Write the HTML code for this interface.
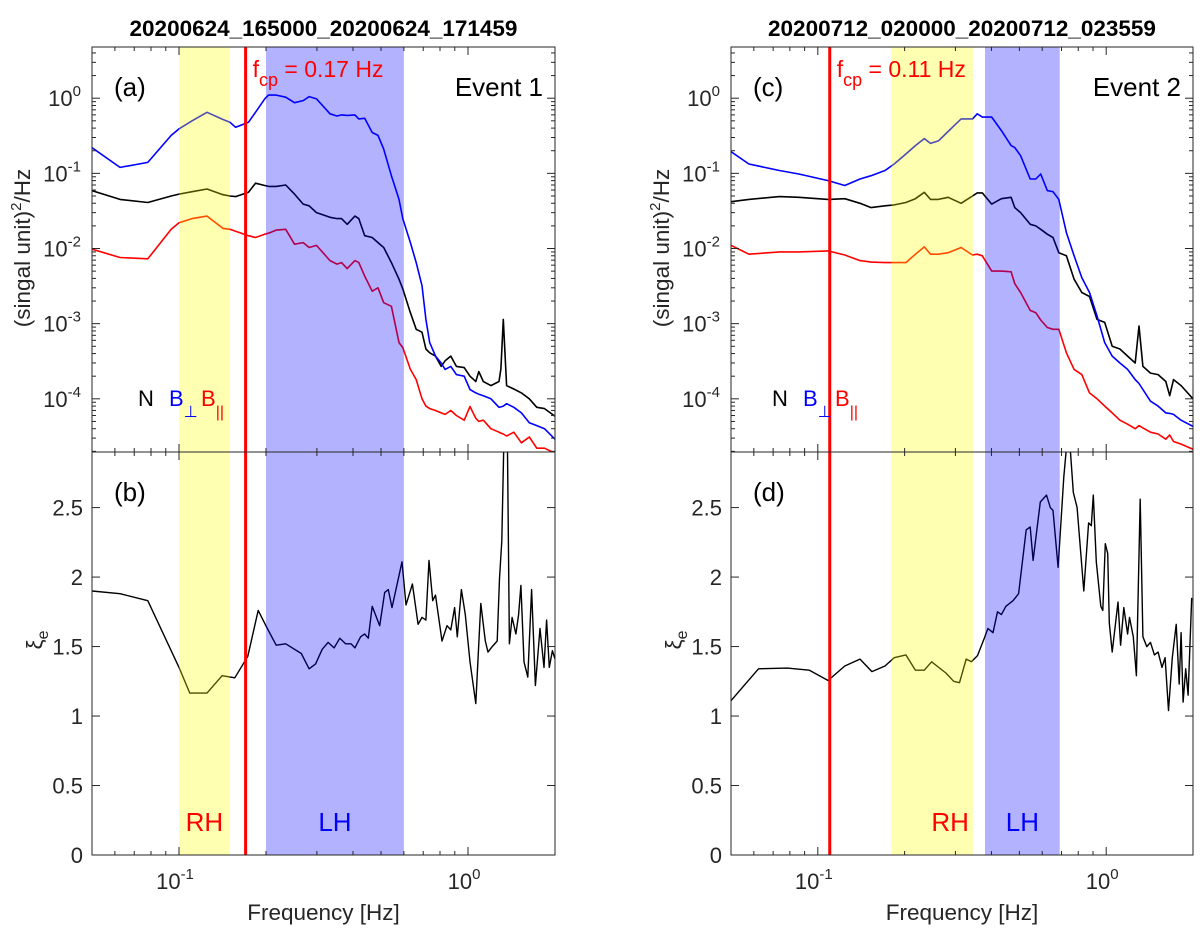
<!DOCTYPE html>
<html><head><meta charset="utf-8">
<style>
html,body{margin:0;padding:0;background:#fff;}
svg{display:block;font-family:"Liberation Sans",Arial,sans-serif;}
</style></head>
<body>
<svg id="fig" width="1200" height="934" viewBox="0 0 1200 934" xmlns="http://www.w3.org/2000/svg"></svg>
<script>
// ---------- Event 1 (left) ----------
const freqA = [0.05,0.0625,0.078,0.094,0.1,0.111,0.125,0.142,0.15,0.157,0.174,0.184,0.198,0.204,0.217,0.234,0.251,0.269,0.282,0.299,0.333,0.352,0.365,0.382,0.406,0.419,0.439,0.466,0.488,0.511,0.543,0.577,0.595,0.632,0.662,0.693,0.715,0.737,0.772,0.808,0.833,0.872,0.912,0.97,1.016,1.064,1.09,1.13,1.2,1.28,1.30,1.325,1.36,1.44,1.53,1.63,1.73,1.84,2.0];
const bperpA = [0.22,0.12,0.14,0.32,0.39,0.5,0.65,0.52,0.48,0.41,0.48,0.65,0.98,1.1,1.1,1.03,0.87,0.93,1.05,0.98,0.62,0.58,0.6,0.59,0.6,0.53,0.54,0.35,0.32,0.21,0.093,0.045,0.025,0.012,0.0065,0.0032,0.00114,0.00056,0.00037,0.0003,0.000246,0.00027,0.00021,0.0002,0.000133,0.00012,0.000115,0.00011,0.0001,0.000077,0.000078,0.00008,0.000086,0.000077,0.000065,0.000048,0.000044,0.00004,0.000029];
const densA = [0.059,0.045,0.041,0.05,0.053,0.057,0.062,0.052,0.05,0.049,0.056,0.074,0.069,0.067,0.067,0.07,0.053,0.039,0.037,0.03,0.026,0.025,0.025,0.021,0.027,0.025,0.0148,0.014,0.012,0.0103,0.0065,0.0039,0.0029,0.0014,0.00084,0.00077,0.00046,0.00041,0.00037,0.00027,0.00032,0.00037,0.00027,0.00026,0.0002,0.00017,0.00023,0.00017,0.00015,0.00017,0.00025,0.00114,0.00015,0.000135,0.00012,0.0001,0.000077,0.000074,0.0000587];
const bparA = [0.0098,0.0076,0.0073,0.018,0.022,0.025,0.027,0.0185,0.018,0.017,0.0148,0.014,0.0155,0.016,0.0176,0.018,0.0114,0.012,0.0103,0.011,0.0069,0.0062,0.0065,0.0054,0.0069,0.0065,0.0043,0.0027,0.003,0.0019,0.0017,0.00056,0.00048,0.000246,0.00018,0.0001,0.00008,0.000074,0.00007,0.000065,0.000062,0.00007,0.00006,0.000052,0.000079,0.000055,0.00005,0.000052,0.00004,0.000036,0.000035,0.000034,0.000032,0.000036,0.000026,0.000031,0.000022,0.000022,0.0000189];
const xiFreqA = [0.05,0.0625,0.078,0.1,0.109,0.125,0.141,0.156,0.173,0.188,0.201,0.217,0.234,0.265,0.282,0.297,0.313,0.328,0.344,0.36,0.377,0.394,0.406,0.425,0.439,0.452,0.466,0.495,0.515,0.53,0.546,0.591,0.61,0.642,0.672,0.693,0.715,0.733,0.755,0.772,0.813,0.846,0.872,0.899,0.918,0.949,0.979,1.016,1.064,1.107,1.148,1.173,1.213,1.262,1.285,1.309,1.337,1.366,1.391,1.421,1.465,1.496,1.524,1.562,1.61,1.66,1.711,1.775,1.832,1.871,1.911,1.959,2.0];
const xiA = [1.90,1.88,1.83,1.35,1.165,1.165,1.29,1.275,1.43,1.76,1.64,1.51,1.52,1.45,1.34,1.375,1.48,1.53,1.49,1.56,1.52,1.52,1.49,1.57,1.59,1.56,1.79,1.65,1.89,1.91,1.78,2.11,1.80,1.95,1.66,1.71,1.69,2.12,1.83,1.87,1.54,1.65,1.62,1.78,1.57,1.91,1.73,1.39,1.09,1.81,1.54,1.46,1.50,1.54,1.99,2.26,3.2,3.2,1.52,1.71,1.59,1.73,1.94,1.39,1.28,1.91,1.22,1.63,1.35,1.69,1.35,1.47,1.41];
const bandsA = {rh:[0.1,0.15], lh:[0.2,0.6], fcp:0.17};

// ---------- Event 2 (right) ----------
const freqB = [0.05,0.0577,0.0736,0.0859,0.1086,0.124,0.140,0.153,0.171,0.184,0.202,0.218,0.234,0.246,0.262,0.283,0.314,0.344,0.357,0.372,0.401,0.433,0.468,0.482,0.505,0.545,0.570,0.593,0.625,0.654,0.685,0.728,0.774,0.823,0.875,0.929,0.988,1.049,1.116,1.186,1.261,1.300,1.341,1.425,1.514,1.610,1.660,1.711,1.819,2.0];
const bperpB = [0.195,0.133,0.109,0.098,0.08,0.069,0.084,0.093,0.109,0.133,0.181,0.234,0.29,0.25,0.27,0.36,0.53,0.53,0.62,0.56,0.56,0.37,0.234,0.22,0.172,0.084,0.084,0.098,0.059,0.057,0.045,0.0163,0.008,0.0041,0.0026,0.00127,0.00056,0.00037,0.0003,0.000246,0.00018,0.00016,0.000133,0.000093,0.00008,0.000065,0.000064,0.000062,0.000052,0.000043];
const densB = [0.042,0.045,0.049,0.048,0.045,0.046,0.04,0.035,0.037,0.038,0.041,0.046,0.056,0.045,0.045,0.048,0.04,0.05,0.055,0.055,0.039,0.046,0.048,0.035,0.03,0.021,0.02,0.018,0.0155,0.014,0.0088,0.008,0.0039,0.0026,0.0023,0.00114,0.00104,0.0005,0.00046,0.00037,0.0003,0.00093,0.00027,0.00022,0.00021,0.00017,0.00011,0.00018,0.00015,0.0001];
const bparB = [0.011,0.0084,0.009,0.009,0.0093,0.0082,0.0069,0.0066,0.0065,0.0065,0.0065,0.0084,0.0105,0.0084,0.0084,0.0088,0.0103,0.0082,0.0084,0.008,0.005,0.005,0.0049,0.0034,0.0026,0.0015,0.0014,0.00112,0.00089,0.00084,0.00084,0.00041,0.000246,0.00021,0.00012,0.0001,0.00008,0.000065,0.000052,0.000046,0.00004,0.000044,0.000041,0.000036,0.000034,0.000029,0.000033,0.000027,0.000025,0.0000213];
const xiFreqB = [0.05,0.0623,0.0783,0.0935,0.1086,0.124,0.140,0.154,0.171,0.184,0.202,0.218,0.234,0.248,0.278,0.296,0.310,0.327,0.341,0.358,0.378,0.389,0.405,0.420,0.433,0.449,0.475,0.497,0.528,0.545,0.558,0.591,0.621,0.640,0.654,0.681,0.713,0.733,0.746,0.769,0.793,0.836,0.869,0.888,0.902,0.924,0.958,0.973,0.993,1.012,1.025,1.049,1.099,1.122,1.151,1.186,1.205,1.242,1.273,1.312,1.341,1.383,1.425,1.469,1.514,1.562,1.600,1.644,1.695,1.749,1.791,1.819,1.848,1.887,1.923,1.98];
const xiB = [1.11,1.34,1.345,1.33,1.256,1.36,1.41,1.32,1.36,1.42,1.44,1.33,1.33,1.39,1.31,1.25,1.24,1.41,1.39,1.435,1.56,1.63,1.60,1.75,1.73,1.79,1.83,1.88,2.34,2.36,2.12,2.54,2.59,2.50,2.48,2.07,2.72,3.0,3.0,2.61,2.50,1.90,2.39,2.37,2.59,2.11,1.79,1.76,2.24,2.17,1.67,1.46,1.82,1.51,1.78,1.59,1.71,1.57,1.29,2.56,1.57,1.50,1.53,1.44,1.46,1.35,1.42,1.04,1.42,1.66,1.23,1.60,1.10,1.34,1.15,1.85];
const bandsB = {rh:[0.18,0.345], lh:[0.38,0.69], fcp:0.11};

const xTickVals = [0.1, 1];
const xTickExp = ["-1","0"];
const yLogTickVals = [1, 0.1, 0.01, 0.001, 0.0001];
const yLogTickExp = ["0","-1","-2","-3","-4"];
const yLinTickVals = [0, 0.5, 1, 1.5, 2, 2.5];
const yLinTickLabels = ["0","0.5","1","1.5","2","2.5"];

const NS = "http://www.w3.org/2000/svg";
const svg = document.getElementById('fig');
function mk(tag, attrs, parent){
  const e = document.createElementNS(NS, tag);
  for (const k in attrs) e.setAttribute(k, attrs[k]);
  (parent||svg).appendChild(e);
  return e;
}

const XMIN=0.05, XMAX=2, YLMIN=1.96e-5, YLMAX=4.8, YXMAX=2.9;
const TOP=47, MID=452, BOT=855;
const TICKFS=22, SUPFS=15, COL='#262626';

function drawPanel(cfg){
  const L=cfg.left, R=cfg.right;
  const xs = f => L + (Math.log10(f)-Math.log10(XMIN))/(Math.log10(XMAX)-Math.log10(XMIN))*(R-L);
  const ysTop = v => MID - (Math.log10(v)-Math.log10(YLMIN))/(Math.log10(YLMAX)-Math.log10(YLMIN))*(MID-TOP);
  const ysBot = v => BOT - v/YXMAX*(BOT-MID);

  const g = mk('g',{});
  
  
  const cid = cfg.name+'-clipT', cid2 = cfg.name+'-clipB';
  const defs = mk('defs',{},g);
  const c1 = mk('clipPath',{id:cid},defs); mk('rect',{x:L,y:TOP,width:R-L,height:MID-TOP},c1);
  const c2 = mk('clipPath',{id:cid2},defs); mk('rect',{x:L,y:MID,width:R-L,height:BOT-MID},c2);

  const t = mk('text',{x:(L+R)/2,y:36,'text-anchor':'middle','font-size':22.5,'font-weight':'bold',fill:'#000'},g);
  t.textContent = cfg.title;
  
  

  const series = [[cfg.dens,'#000','density-line'],[cfg.bperp,'#0000ff','bperp-line'],[cfg.bpar,'#ff0000','bpar-line']];
  const gl = mk('g',{'clip-path':'url(#'+cid+')'},g);
  series.forEach(s=>{
    const d = cfg.freq.map((f,i)=>(i?'L':'M')+xs(f).toFixed(1)+','+ysTop(s[0][i]).toFixed(1)).join('');
    const p = mk('path',{d:d,fill:'none',stroke:s[1],'stroke-width':1.6,'stroke-linejoin':'round'},gl);
    
    
  });
  const gb = mk('g',{'clip-path':'url(#'+cid2+')'},g);
  const dxi = cfg.xiF.map((f,i)=>(i?'L':'M')+xs(f).toFixed(1)+','+ysBot(cfg.xi[i]).toFixed(1)).join('');
  const px = mk('path',{d:dxi,fill:'none',stroke:'#000','stroke-width':1.4,'stroke-linejoin':'round'},gb);
  
  

  const b1 = mk('rect',{x:xs(cfg.bands.rh[0]),y:TOP,width:xs(cfg.bands.rh[1])-xs(cfg.bands.rh[0]),height:BOT-TOP,fill:'#ffff00','fill-opacity':0.3},g);
  
  
  const b2 = mk('rect',{x:xs(cfg.bands.lh[0]),y:TOP,width:xs(cfg.bands.lh[1])-xs(cfg.bands.lh[0]),height:BOT-TOP,fill:'#0000ff','fill-opacity':0.3},g);
  
  
  const fl = mk('line',{x1:xs(cfg.bands.fcp),x2:xs(cfg.bands.fcp),y1:TOP,y2:BOT,stroke:'#ff0000','stroke-width':3},g);
  
  

  [[TOP,MID],[MID,BOT]].forEach((yy,k)=>{
    const r = mk('rect',{x:L,y:yy[0],width:R-L,height:yy[1]-yy[0],fill:'none',stroke:COL,'stroke-width':1},g);
    
    
  });
  const ticks = [];
  for (let dec=-2; dec<=0; dec++) for (let m=1;m<=9;m++){ const f=m*Math.pow(10,dec); if(f>=XMIN-1e-9&&f<=XMAX+1e-9) ticks.push([f,m===1]); }
  ticks.forEach(tk=>{
    const x=xs(tk[0]), len=tk[1]?8:4;
    [[TOP,1],[MID,-1],[MID,1],[BOT,-1]].forEach(a=>mk('line',{x1:x,x2:x,y1:a[0],y2:a[0]+a[1]*len,stroke:COL,'stroke-width':1},g));
  });
  xTickVals.forEach((v,i)=>{
    const tx = mk('text',{x:xs(v)-4,y:889,'text-anchor':'middle','font-size':TICKFS,fill:COL},g);
    tx.textContent='10';
    const sp = mk('tspan',{dy:-10,'font-size':SUPFS},tx); sp.textContent=xTickExp[i];
    
    
  });
  const xl = mk('text',{x:(L+R)/2,y:920,'text-anchor':'middle','font-size':22.5,fill:COL},g);
  xl.textContent='Frequency [Hz]';
  
  

  for (let dec=-5; dec<=0; dec++) for (let m=1;m<=9;m++){
    const v=m*Math.pow(10,dec); if(v<YLMIN||v>YLMAX) continue;
    const y=ysTop(v), len=m===1?8:4;
    mk('line',{x1:L,x2:L+len,y1:y,y2:y,stroke:COL,'stroke-width':1},g);
    mk('line',{x1:R,x2:R-len,y1:y,y2:y,stroke:COL,'stroke-width':1},g);
  }
  yLogTickVals.forEach((v,i)=>{
    const tx = mk('text',{x:L-11,y:ysTop(v)+8,'text-anchor':'end','font-size':TICKFS,fill:COL},g);
    tx.textContent='10';
    const sp = mk('tspan',{dy:-10,'font-size':SUPFS},tx); sp.textContent=yLogTickExp[i];
    
    
  });
  const yl = mk('text',{x:0,y:0,'text-anchor':'middle','font-size':22.5,fill:COL,transform:'translate('+(L-62)+',248) rotate(-90)'},g);
  yl.textContent='(singal unit)';
  const s2 = mk('tspan',{dy:-9,'font-size':15},yl); s2.textContent='2';
  const s3 = mk('tspan',{dy:9},yl); s3.textContent='/Hz';
  
  

  yLinTickVals.forEach((v,i)=>{
    const y=ysBot(v);
    mk('line',{x1:L,x2:L+8,y1:y,y2:y,stroke:COL,'stroke-width':1},g);
    mk('line',{x1:R,x2:R-8,y1:y,y2:y,stroke:COL,'stroke-width':1},g);
    const tx = mk('text',{x:L-9,y:y+8,'text-anchor':'end','font-size':TICKFS,fill:COL},g);
    tx.textContent=yLinTickLabels[i];
    
    
  });
  const xil = mk('text',{x:0,y:0,'text-anchor':'middle','font-size':22.5,fill:COL,transform:'translate('+(L-50)+',640) rotate(-90)'},g);
  xil.textContent='ξ';
  const xs2 = mk('tspan',{dy:6,'font-size':16},xil); xs2.textContent='e';
  
  

  function txt(x,y,s,size,fill,anchor,name){
    const e = mk('text',{x:x,y:y,'font-size':size,fill:fill,'text-anchor':anchor||'start'},g);
    e.textContent=s;
    
    
    return e;
  }
  txt(L+22,96,cfg.lab1,26,'#000','start',cfg.name+'-panel-label-top');
  txt(L+22,501,cfg.lab2,26,'#000','start',cfg.name+'-panel-label-bottom');
  txt(R-12,96,cfg.event,26,'#000','end',cfg.name+'-event-label');
  const fc = txt(xs(cfg.bands.fcp)+7,77,'f',23,'#ff0000','start',cfg.name+'-fcp-label');
  const fs = mk('tspan',{dy:9,'font-size':18},fc); fs.textContent='cp';
  const fr = mk('tspan',{dy:-9},fc); fr.textContent=' = '+cfg.bands.fcp+' Hz';
  txt(cfg.legX,406,'N',22,'#000','start',cfg.name+'-legend-n');
  const lb = txt(cfg.legX+31,406,'B',22,'#0000ff','start',cfg.name+'-legend-bperp');
  const lbs = mk('tspan',{dy:11,'font-size':16},lb); lbs.textContent='⊥';
  const lp = txt(cfg.legX+63,406,'B',22,'#ff0000','start',cfg.name+'-legend-bpar');
  const lps = mk('tspan',{dy:11,'font-size':16},lp); lps.textContent='||';
  txt((xs(cfg.bands.rh[0])+xs(cfg.bands.rh[1]))/2+cfg.rhShift,831,'RH',26,'#ff0000','middle',cfg.name+'-rh-label');
  txt((xs(cfg.bands.lh[0])+xs(cfg.bands.lh[1]))/2,831,'LH',26,'#0000ff','middle',cfg.name+'-lh-label');
}

drawPanel({name:'event1',left:92,right:555,title:'20200624_165000_20200624_171459',freq:freqA,bperp:bperpA,dens:densA,bpar:bparA,xiF:xiFreqA,xi:xiA,bands:bandsA,lab1:'(a)',lab2:'(b)',event:'Event 1',legX:138,rhShift:0});
drawPanel({name:'event2',left:731,right:1193,title:'20200712_020000_20200712_023559',freq:freqB,bperp:bperpB,dens:densB,bpar:bparB,xiF:xiFreqB,xi:xiB,bands:bandsB,lab1:'(c)',lab2:'(d)',event:'Event 2',legX:772,rhShift:18});
</script>
</body></html>
